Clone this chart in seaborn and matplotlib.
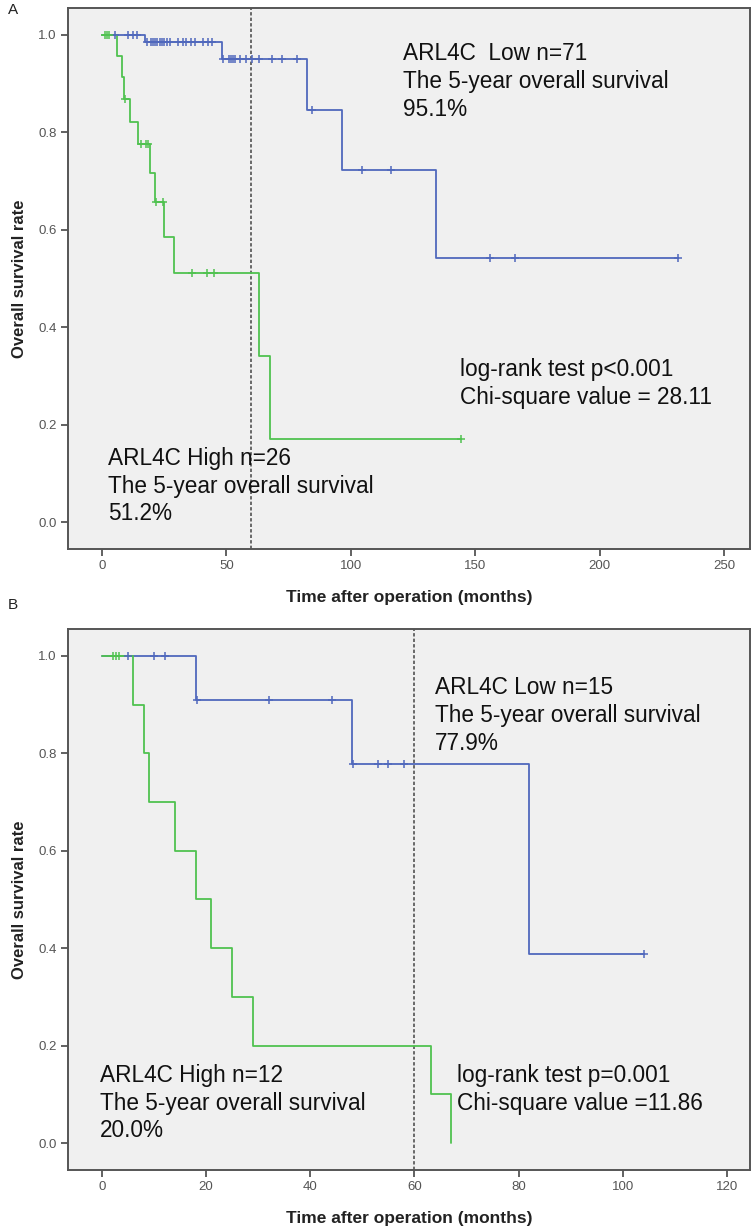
import numpy as np
import pandas as pd
import matplotlib
matplotlib.use("Agg")
import matplotlib.pyplot as plt
import seaborn as sns

sns.set_theme(style="white")
plt.rcParams['font.family'] = ['Liberation Sans', 'DejaVu Sans']

# ---------------- data ----------------
# Panel A
a_low_t = [0, 17.3, 48.2, 82.2, 96.5, 134.2, 231.5]
a_low_s = [1.0, 0.985, 0.951, 0.845, 0.723, 0.542, 0.542]
a_low_cens = [5.2, 10.5, 12.5, 14.0, 18.0, 19.5, 20.5, 21.3, 22.0, 23.3, 24.0, 24.8, 26.0, 27.3,
              30.5, 32.5, 33.8, 35.8, 37.4, 40.6, 42.6, 44.2, 48.6, 51.0, 51.8, 52.6, 53.5,
              55.5, 57.9, 60.3, 63.1, 68.3, 72.3, 78.4, 84.4, 104.5, 116.0, 156.0, 166.0, 231.5]
a_high_t = [0, 5.9, 8.2, 8.8, 11.3, 14.3, 19.2, 21.3, 25.0, 29.1, 63.1, 67.3, 144.3]
a_high_s = [1.0, 0.957, 0.913, 0.869, 0.822, 0.776, 0.717, 0.657, 0.585, 0.511, 0.342, 0.170, 0.170]
a_high_cens = [1.2, 2.1, 2.9, 9.2, 15.5, 17.8, 18.6, 21.6, 24.4, 36.3, 42.0, 45.0, 144.3]

# Panel B
b_low_t = [0, 18.0, 48.0, 82.0, 104.0]
b_low_s = [1.0, 0.909, 0.779, 0.389, 0.389]
b_low_cens = [5.1, 10.0, 12.1, 18.2, 32.1, 44.1, 48.2, 53.0, 55.0, 58.0, 104.0]
b_high_t = [0, 6.0, 8.1, 9.0, 14.1, 18.0, 21.0, 25.0, 29.0, 63.1, 67.0]
b_high_s = [1.0, 0.9, 0.8, 0.7, 0.6, 0.5, 0.4, 0.3, 0.2, 0.1, 0.0]
b_high_cens = [2.2, 2.8, 3.3]

a_xticks = [0, 50, 100, 150, 200, 250]
b_xticks = [0, 20, 40, 60, 80, 100, 120]
yticks = [0.0, 0.2, 0.4, 0.6, 0.8, 1.0]

BLUE = "#5068bc"
GREEN = "#50c250"
BG = "#f0f0f0"
FRAME = "#555555"
TICKC = "#555555"
NARROW = ['Liberation Sans Narrow', 'Liberation Sans', 'DejaVu Sans']

fig = plt.figure(figsize=(7.51, 12.28), dpi=100)
axA = fig.add_axes([68/751, 1-549/1228, 682/751, 541/1228])
axB = fig.add_axes([68/751, 1-1170/1228, 682/751, 541/1228])


def step_level(t, s, x):
    idx = np.searchsorted(np.asarray(t), np.asarray(x), side='right') - 1
    return np.asarray(s)[idx]


def draw_curve(ax, t, s, cens, color):
    df = pd.DataFrame({"t": t, "s": s})
    sns.lineplot(data=df, x="t", y="s", ax=ax, color=color, lw=1.3,
                 drawstyle="steps-post", estimator=None, sort=False)
    cdf = pd.DataFrame({"t": cens, "s": step_level(t, s, cens)})
    sns.scatterplot(data=cdf, x="t", y="s", ax=ax, color=color, marker="+",
                    s=30, linewidth=1.1, zorder=5)


def style_axis(ax, xlim, xticks):
    ax.set_facecolor(BG)
    ax.set_xlim(*xlim)
    ax.set_ylim(-0.055, 1.055)
    ax.set_xticks(xticks)
    ax.set_yticks(yticks)
    ax.set_yticklabels([f"{v:.1f}" for v in yticks])
    ax.tick_params(axis='both', direction='out', length=5, width=1.3, color=FRAME,
                   labelcolor=TICKC, labelsize=9.5, bottom=True, left=True, pad=3)
    for lab in ax.get_xticklabels() + ax.get_yticklabels():
        lab.set_family(NARROW)
    for sp in ax.spines.values():
        sp.set_color(FRAME)
        sp.set_linewidth(1.4)
    ax.axvline(60, color="#444444", lw=1.1, ls=(0, (2.2, 1.4)), zorder=1)
    ax.set_xlabel("Time after operation (months)", fontsize=12.5, fontweight='bold',
                  family=NARROW, color="#222222", labelpad=13)
    ax.set_ylabel("Overall survival rate", fontsize=12, fontweight='bold',
                  family=NARROW, color="#222222", labelpad=8)


# Panel A
style_axis(axA, (-13.7, 260.4), a_xticks)
draw_curve(axA, a_low_t, a_low_s, a_low_cens, BLUE)
draw_curve(axA, a_high_t, a_high_s, a_high_cens, GREEN)

# Panel B
style_axis(axB, (-6.5, 124.4), b_xticks)
draw_curve(axB, b_low_t, b_low_s, b_low_cens, BLUE)
draw_curve(axB, b_high_t, b_high_s, b_high_cens, GREEN)

TXT = dict(fontsize=16.3, color="#111111", va='top', ha='left', linespacing=1.27)
axA.text(121, 0.985, "ARL4C  Low n=71\nThe 5-year overall survival\n95.1%", **TXT)
axA.text(143.9, 0.337, "log-rank test p<0.001\nChi-square value = 28.11", **TXT)
axA.text(2.4, 0.155, "ARL4C High n=26\nThe 5-year overall survival\n51.2%", **TXT)

axB.text(63.9, 0.958, "ARL4C Low n=15\nThe 5-year overall survival\n77.9%", **TXT)
axB.text(68.1, 0.163, "log-rank test p=0.001\nChi-square value =11.86", **TXT)
axB.text(-0.4, 0.163, "ARL4C High n=12\nThe 5-year overall survival\n20.0%", **TXT)

fig.text(8/751, 1-3/1228, "A", fontsize=11, va='top', ha='left', color="#222222")
fig.text(8/751, 1-598/1228, "B", fontsize=11, va='top', ha='left', color="#222222")

fig.savefig("out.png", dpi=100, facecolor="white")
